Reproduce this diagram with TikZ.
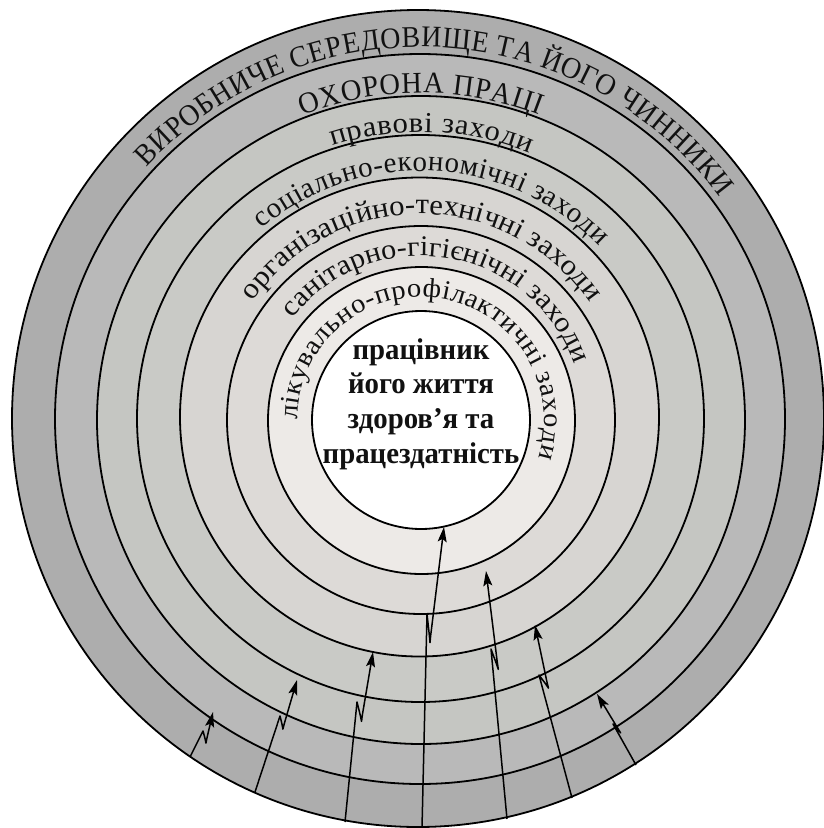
\documentclass[tikz,border=0pt]{standalone}
\usepackage{fontspec}
\setmainfont{Liberation Serif}
\newfontfamily\capsfont[FakeStretch=0.93]{Liberation Serif}
\newfontfamily\plainfont[FakeStretch=1.0]{Liberation Serif}
\newfontfamily\narrowfont[FakeStretch=0.95]{Liberation Serif}
\newfontfamily\widefont[FakeStretch=1.06]{Liberation Serif}
\newfontfamily\centrefont[FakeStretch=0.96]{Liberation Serif}
\usetikzlibrary{decorations.text,arrows.meta,calc}
\definecolor{b1}{HTML}{ADADAD}
\definecolor{b2}{HTML}{B9B9B9}
\definecolor{b3}{HTML}{C5C6C2}
\definecolor{b4}{HTML}{C9CAC6}
\definecolor{b5}{HTML}{D7D5D2}
\definecolor{b6}{HTML}{DDDAD7}
\definecolor{b7}{HTML}{EDEAE7}
\definecolor{ink}{HTML}{111111}
\begin{document}
\begin{tikzpicture}[x=1pt,y=-1pt,
  ringline/.style={draw=black,line width=1.8pt},
  arr/.style={draw=black,line width=1.5pt,line join=round,-{Stealth[length=15pt,width=9pt,inset=3pt]}},
  ringtext/.style={decorate,decoration={text along path,text align={fit to path},text color=ink,text={#1}}}
]
\useasboundingbox (0,0) rectangle (824,828);
% filled rings
\fill[b1] (418,418.5) ellipse [x radius=406, y radius=408.5];
\fill[b2] (420,419) circle [radius=365];
\fill[b3] (421,420) circle [radius=324];
\fill[b4] (420.5,418.5) circle [radius=283.5];
\fill[b5] (419.5,417) circle [radius=239.5];
\fill[b6] (421,420) circle [radius=194];
\fill[b7] (421.5,420.5) circle [radius=153.5];
\fill[white] (421,420) circle [radius=109];
% outlines
\draw[ringline] (418,418.5) ellipse [x radius=406, y radius=408.5];
\draw[ringline] (420,419) circle [radius=365];
\draw[ringline] (421,420) circle [radius=324];
\draw[ringline] (420.5,418.5) circle [radius=283.5];
\draw[ringline] (419.5,417) circle [radius=239.5];
\draw[ringline] (421,420) circle [radius=194];
\draw[ringline] (421.5,420.5) circle [radius=153.5];
\draw[ringline] (421,420) circle [radius=109];
% ring texts
\path[ringtext={|\capsfont\fontsize{30pt}{30pt}\selectfont|ВИРОБНИЧЕ СЕРЕДОВИЩЕ ТА ЙОГО ЧИННИКИ}]
  ($(421,419)+(-137.5:372)$) arc[start angle=-137.5,end angle=-36.5,radius=372];
\path[ringtext={|\narrowfont\fontsize{30pt}{30pt}\selectfont|ОХОРОНА ПРАЦІ}]
  ($(421,419)+(-111.3:326)$) arc[start angle=-111.3,end angle=-68.7,radius=326];
\path[ringtext={|\widefont\fontsize{29pt}{29pt}\selectfont|правові заходи}]
  ($(421,419)+(-108:287)$) arc[start angle=-108,end angle=-67.7,radius=287];
\path[ringtext={|\plainfont\fontsize{29pt}{29pt}\selectfont|соціально-економічні заходи}]
  ($(421,419)+(-130:248)$) arc[start angle=-130,end angle=-44,radius=248];
\path[ringtext={|\widefont\fontsize{29pt}{29pt}\selectfont|організаційно-технічні заходи}]
  ($(421,419)+(-145:205)$) arc[start angle=-145,end angle=-35.5,radius=205];
\path[ringtext={|\widefont\fontsize{28.5pt}{28.5pt}\selectfont|санітарно-гігієнічні заходи}]
  ($(421,419)+(-142:163)$) arc[start angle=-142,end angle=-20,radius=163];
\path[ringtext={|\widefont\fontsize{27pt}{27pt}\selectfont|лікувально-профілактичні заходи}]
  ($(421,420)+(-180:123)$) arc[start angle=-180,end angle=18,radius=123];
% centre
\node[font=\centrefont\bfseries\fontsize{30pt}{34.7pt}\selectfont,text=ink,align=center,inner sep=0pt] (worker) at (421,404)
  {працівник\\його життя\\здоров’я та\\працездатність};
% arrows
\coordinate (as) at (190,757); \coordinate (ap) at (203,731); \coordinate (aq) at (206,742); \coordinate (at) at (213,712);
\coordinate (bs) at (255,792); \coordinate (bp) at (280,716); \coordinate (bq) at (283,728); \coordinate (bt) at (297,680);
\coordinate (cs) at (345,822); \coordinate (cp) at (357,702); \coordinate (cq) at (361.5,720); \coordinate (ct) at (373,652);
\coordinate (ds) at (422,828); \coordinate (dp) at (427,614); \coordinate (dq) at (430,641); \coordinate (dt) at (444,527);
\coordinate (es) at (507,819); \coordinate (ep) at (491,649); \coordinate (eq) at (498,668); \coordinate (et) at (486,571);
\coordinate (fs) at (572,798); \coordinate (fp) at (539,675); \coordinate (fq) at (548,687); \coordinate (ft) at (535,625);
\coordinate (gs) at (636,765); \coordinate (gp) at (613,724); \coordinate (gq) at (620,732); \coordinate (gt) at (597,694);
\foreach \n in {a,b,c,d,e,f,g}{
  \draw[arr] (\n s) -- (\n p) -- ($(\n p)!0.5!(\n q)$)
    .. controls ($(\n q)!-0.25!(\n p)$) and ($(\n q)!-4pt!(\n t)$) .. ($(\n q)!6pt!(\n t)$) -- (\n t);
}
\end{tikzpicture}
\end{document}
